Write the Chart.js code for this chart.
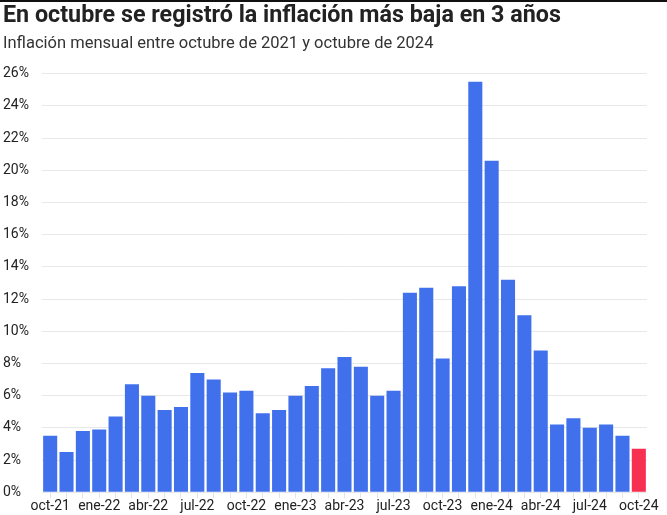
<!DOCTYPE html>
<html lang="es">
<head>
<meta charset="utf-8">
<script src="https://cdn.jsdelivr.net/npm/chart.js@4/dist/chart.umd.min.js"></script>
<style>
    html, body { margin: 0; padding: 0; background: #fff; }
    #wrap { width: 667px; height: 513px; border-top: 2px solid #111; position: relative; }
</style>
</head>
<body>
<div id="wrap"><canvas id="inflChart"></canvas></div>
<script>
const months = [
    "oct-21", "nov-21", "dic-21",
    "ene-22", "feb-22", "mar-22", "abr-22", "may-22", "jun-22",
    "jul-22", "ago-22", "sep-22", "oct-22", "nov-22", "dic-22",
    "ene-23", "feb-23", "mar-23", "abr-23", "may-23", "jun-23",
    "jul-23", "ago-23", "sep-23", "oct-23", "nov-23", "dic-23",
    "ene-24", "feb-24", "mar-24", "abr-24", "may-24", "jun-24",
    "jul-24", "ago-24", "sep-24", "oct-24"
];

const inflation = [
    3.5, 2.5, 3.8,
    3.9, 4.7, 6.7, 6.0, 5.1, 5.3,
    7.4, 7.0, 6.2, 6.3, 4.9, 5.1,
    6.0, 6.6, 7.7, 8.4, 7.8, 6.0,
    6.3, 12.4, 12.7, 8.3, 12.8, 25.5,
    20.6, 13.2, 11.0, 8.8, 4.2, 4.6,
    4.0, 4.2, 3.5, 2.7
];

const yTicks = [0, 2, 4, 6, 8, 10, 12, 14, 16, 18, 20, 22, 24, 26];

const blue = "#4070ec";
const red = "#f72f50";

const barColors = months.map((m, i) => i === months.length - 1 ? red : blue);

const ctx = document.getElementById("inflChart").getContext("2d");

new Chart(ctx, {
    type: "bar",
    data: {
        labels: months,
        datasets: [{
            label: "Inflación mensual",
            data: inflation,
            backgroundColor: barColors,
            borderWidth: 0,
            barPercentage: 1,
            categoryPercentage: 0.86
        }]
    },
    options: {
        responsive: true,
        maintainAspectRatio: false,
        animation: false,
        layout: {
            padding: { left: 3, right: 20, top: 0, bottom: 0 }
        },
        plugins: {
            legend: { display: false },
            tooltip: { enabled: false },
            title: {
                display: true,
                text: "En octubre se registró la inflación más baja en 3 años",
                align: "start",
                color: "#222",
                font: { family: "Roboto", size: 23.3, weight: "bold" },
                padding: { top: 0, bottom: 4 }
            },
            subtitle: {
                display: true,
                text: "Inflación mensual entre octubre de 2021 y octubre de 2024",
                align: "start",
                color: "#333",
                font: { family: "Roboto", size: 16.5, weight: "normal" },
                padding: { top: 0, bottom: 20 }
            }
        },
        scales: {
            x: {
                grid: {
                    display: true,
                    drawOnChartArea: false,
                    offset: false,
                    tickLength: 6,
                    color: "#e4e4e4"
                },
                border: { display: false },
                ticks: {
                    autoSkip: false,
                    maxRotation: 0,
                    color: "#222",
                    font: { family: "Roboto", size: 14 },
                    padding: 0,
                    callback: function(value, index) {
                        return index % 3 === 0 ? months[index] : "";
                    }
                }
            },
            y: {
                min: 0,
                max: 26,
                afterBuildTicks: function(axis) {
                    axis.ticks = yTicks.map(v => ({ value: v }));
                },
                afterFit: function(axis) {
                    axis.width = 39;
                },
                grid: {
                    color: "#e8e8e8",
                    drawTicks: false
                },
                border: { display: false },
                ticks: {
                    crossAlign: "far",
                    padding: 9,
                    color: "#222",
                    font: { family: "Roboto", size: 14 },
                    callback: v => v + "%"
                }
            }
        }
    }
});
</script>
</body>
</html>
